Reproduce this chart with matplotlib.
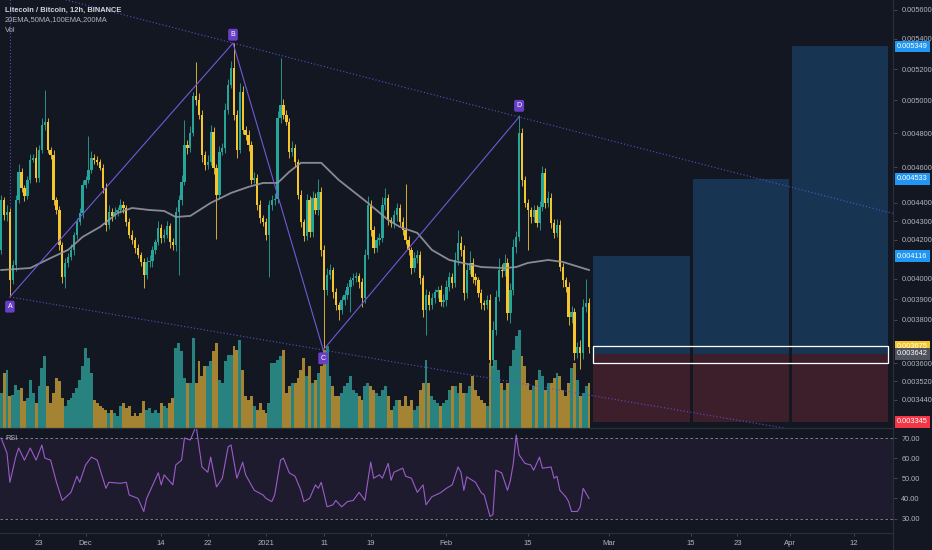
import matplotlib
matplotlib.use('Agg')
import matplotlib.pyplot as plt
import matplotlib.dates as mdates
import matplotlib.transforms as mtrans
from matplotlib.patches import Rectangle
from matplotlib.lines import Line2D
import numpy as np
import pandas as pd

plt.rcParams['font.family'] = ['Liberation Sans', 'DejaVu Sans']

# --- data (prices in 1e-6 BTC) ---
first_candle = '2020-11-16 12:00'
open0_e6 = 4148
close_e6 = [
    4415, 4333, 4349, 3995, 4071, 4415, 4573, 4482, 4437, 4527,
    4642, 4654, 4538, 4700, 4850, 4868, 4700, 4671, 4415, 4360,
    4174, 4010, 4081, 4112, 4148, 4227, 4295, 4344, 4499, 4527,
    4584, 4654, 4642, 4630, 4596, 4482, 4280, 4349, 4328, 4349,
    4360, 4388, 4371, 4295, 4227, 4200, 4158, 4122, 4086, 4020,
    4086, 4090, 4148, 4190, 4264, 4211, 4227, 4275, 4190, 4174,
    4349, 4415, 4516, 4730, 4712, 4801, 5028, 5003, 4910, 4671,
    4613, 4630, 4807, 4596, 4443, 4688, 4712, 4941, 5098, 5207,
    4910, 4700, 5053, 4819, 4789, 4730, 4527, 4538, 4388, 4317,
    4295, 4227, 4388, 4415, 4420, 4892, 4972, 4910, 4868, 4688,
    4712, 4630, 4443, 4295, 4222, 4415, 4243, 4426, 4360, 4460,
    4148, 3945, 4020, 4045, 3935, 3872, 3848, 3896, 3921, 3960,
    3995, 4005, 4015, 3985, 3906, 4122, 4388, 4253, 4158, 4200,
    4211, 4388, 4426, 4306, 4290, 4333, 4371, 4295, 4253, 4200,
    4148, 4055, 4106, 4122, 4005, 3848, 3921, 3872, 3906, 3935,
    3945, 3886, 3896, 3960, 4010, 3980, 4096, 4184, 4148, 3931,
    4045, 4081, 4010, 3995, 3931, 3882, 3872, 3896, 3615, 3753,
    3911, 4045, 4040, 4081, 3834, 3945, 4164, 4216, 4801, 4527,
    4399, 4360, 4322, 4360, 4290, 4377, 4567, 4399, 4426, 4290,
    4238, 4280, 4061, 3995, 3960, 3814, 3838, 3647, 3674, 3647,
    3862, 3882, 3675]
wick_hi_e6 = [
    30, 15, 40, 20, 25, 30, 45, 20, 15, 25,
    35, 20, 65, 30, 40, 200, 25, 20, 30, 15,
    20, 15, 25, 20, 30, 15, 20, 25, 30, 20,
    200, 40, 25, 20, 15, 20, 25, 40, 20, 25,
    15, 30, 20, 15, 20, 25, 15, 20, 15, 20,
    25, 30, 20, 15, 35, 20, 30, 25, 15, 20,
    30, 25, 40, 150, 30, 40, 25, 215, 45, 30,
    25, 40, 40, 30, 25, 35, 30, 40, 35, 45,
    165, 30, 60, 40, 25, 30, 25, 35, 20, 25,
    15, 20, 25, 30, 35, 40, 300, 35, 30, 25,
    40, 25, 20, 30, 15, 35, 20, 40, 25, 70,
    30, 25, 35, 30, 15, 20, 15, 20, 25, 20,
    15, 25, 20, 15, 20, 30, 50, 25, 20, 15,
    25, 45, 55, 20, 15, 25, 30, 20, 25, 250,
    20, 15, 30, 25, 20, 15, 30, 20, 25, 15,
    20, 25, 30, 35, 25, 20, 40, 70, 35, 25,
    30, 60, 25, 20, 15, 20, 15, 25, 30, 40,
    35, 60, 30, 45, 25, 35, 40, 30, 110, 30,
    25, 20, 15, 30, 25, 35, 40, 30, 40, 25,
    20, 30, 25, 20, 15, 25, 30, 20, 25, 30,
    40, 120, 25]
wick_lo_e6 = [
    20, 25, 30, 80, 20, 30, 15, 20, 25, 15,
    20, 15, 25, 20, 15, 30, 20, 25, 30, 20,
    25, 30, 55, 20, 15, 25, 20, 15, 25, 20,
    15, 20, 25, 20, 15, 30, 35, 20, 25, 15,
    20, 15, 25, 20, 15, 20, 25, 15, 20, 65,
    20, 25, 30, 20, 15, 25, 20, 15, 30, 25,
    30, 330, 25, 20, 35, 25, 20, 30, 25, 40,
    30, 25, 20, 35, 240, 25, 20, 30, 25, 20,
    30, 45, 20, 25, 30, 35, 25, 20, 30, 25,
    20, 25, 217, 30, 25, 20, 30, 25, 20, 35,
    25, 30, 20, 25, 30, 20, 25, 30, 20, 25,
    30, 276, 25, 20, 30, 25, 48, 20, 25, 20,
    120, 25, 20, 30, 45, 25, 20, 30, 25, 20,
    25, 20, 30, 25, 20, 25, 30, 20, 25, 20,
    25, 30, 20, 25, 30, 35, 118, 25, 20, 25,
    30, 20, 25, 30, 20, 25, 20, 25, 30, 35,
    25, 20, 30, 25, 20, 30, 25, 20, 15, 30,
    25, 20, 30, 25, 35, 46, 25, 30, 20, 35,
    25, 210, 30, 25, 20, 35, 25, 30, 20, 25,
    30, 25, 20, 35, 25, 40, 30, 32, 25, 75,
    30, 25, 30]
volume_k = [
    35, 55, 58, 32, 33, 43, 38, 40, 27, 30,
    48, 35, 25, 42, 60, 72, 42, 25, 35, 50,
    47, 30, 22, 28, 30, 35, 40, 48, 62, 80,
    70, 55, 28, 25, 22, 20, 18, 15, 18, 15,
    12, 22, 25, 20, 22, 12, 15, 12, 15, 27,
    18, 20, 15, 18, 15, 25, 22, 20, 25, 30,
    80, 85, 77, 50, 45, 45, 90, 45, 67, 52,
    62, 62, 67, 77, 85, 48, 45, 67, 73, 73,
    82, 78, 88, 58, 32, 28, 32, 22, 18, 25,
    18, 15, 25, 65, 65, 68, 72, 78, 35, 42,
    45, 45, 50, 58, 70, 52, 62, 45, 48, 55,
    62, 78, 82, 52, 42, 32, 32, 35, 42, 45,
    52, 38, 35, 32, 28, 42, 45, 42, 38, 35,
    32, 38, 42, 32, 18, 22, 28, 28, 22, 32,
    22, 28, 18, 22, 38, 45, 68, 45, 32, 28,
    25, 22, 25, 28, 38, 42, 42, 35, 45, 35,
    35, 42, 52, 38, 32, 28, 25, 22, 65, 62,
    68, 58, 45, 38, 45, 62, 78, 92, 98, 72,
    62, 45, 38, 42, 48, 58, 52, 38, 45, 45,
    50, 55, 52, 38, 32, 45, 60, 65, 48, 32,
    35, 42, 45]

ma_idx = [0, 10, 17, 23, 28, 34, 40, 45, 51, 56,
          60, 65, 72, 79, 85, 90, 95, 99, 103, 110,
          116, 126, 133, 137, 143, 148, 154, 165, 173, 177,
          181, 188, 193, 202]
ma_e6 = [4045, 4055, 4106, 4148, 4216, 4269, 4344, 4371, 4360, 4355,
         4322, 4328, 4399, 4454, 4488, 4510, 4510, 4573, 4625, 4625,
         4527, 4399, 4306, 4269, 4237, 4148, 4096, 4060, 4055, 4060,
         4081, 4096, 4086, 4045]

rsi_idx = [0, 2, 3, 5, 6, 8, 10, 12, 14, 15,
           17, 19, 21, 24, 26, 27, 29, 31, 33, 36,
           37, 41, 43, 44, 47, 49, 50, 54, 55, 56,
           59, 60, 62, 63, 65, 67, 69, 71, 72, 74,
           76, 78, 79, 81, 83, 84, 87, 90, 91, 93,
           94, 96, 97, 99, 101, 103, 104, 106, 108, 109,
           110, 112, 114, 115, 117, 119, 121, 123, 125, 127,
           128, 130, 131, 133, 134, 135, 138, 139, 141, 143,
           145, 146, 148, 151, 153, 155, 157, 158, 159, 160,
           163, 165, 166, 168, 169, 170, 172, 174, 175, 176,
           177, 178, 180, 182, 183, 185, 186, 189, 190, 191,
           192, 194, 195, 196, 198, 199, 200, 202]
rsi_val = [70, 62.5, 48, 60.5, 65, 59, 65, 59, 66.5, 60,
           59, 48, 39, 43, 51, 48, 56.6, 60.5, 59, 45,
           48, 47.5, 48, 41.7, 40, 33.5, 40, 52.7, 46.7, 51.7,
           46.7, 56.6, 59, 70, 69, 76, 55.6, 53, 60.5, 45.7,
           50, 65.6, 66.5, 50, 58, 51.7, 44, 41.7, 40, 38.4,
           41.7, 59, 60, 52.7, 51, 44, 38.4, 40, 46.7, 45,
           48, 35.8, 36.8, 39, 35.8, 38.4, 39, 43, 39, 58,
           50, 51.7, 50, 57.4, 49, 53, 55, 51, 50, 43,
           46.7, 36.8, 40.8, 42.8, 45, 46.7, 55.6, 53, 44, 50.7,
           48, 42.8, 41.7, 31, 32, 54, 52.7, 44, 49, 57.4,
           71.5, 61.6, 57.4, 56.6, 54, 60.5, 55, 55.6, 50, 51,
           44, 40.8, 38.4, 33.5, 33.5, 35.8, 45, 40]

pattern_names = ['A', 'B', 'C', 'D']
pattern_time = ['2020-11-18 00:00', '2020-12-26 08:00', '2021-01-10 20:00', '2021-02-13 12:00']
pattern_e6 = [3911, 5372, 3660, 4898]

entry_e6 = 3642
stop_e6 = 3345
target_e6 = [4116, 4533, 5349]
box_start = ['2021-02-26 04:00', '2021-03-15 08:00', '2021-04-01 10:00']
box_end = ['2021-03-14 22:00', '2021-03-31 20:00', '2021-04-17 22:00']
zone_e6 = [3600, 3680]
last_e6 = 3675

# levels hidden behind the price badges are left out
price_ticks_e6 = [5600, 5400, 5200, 5000, 4800, 4600, 4400, 4300, 4200,
                  4000, 3900, 3800, 3600, 3520, 3440]
rsi_ticks = [70, 60, 50, 40, 30]
date_ticks = ['2020-11-23', '2020-12-01', '2020-12-14', '2020-12-22', '2021-01-01',
              '2021-01-11', '2021-01-19', '2021-02-01', '2021-02-15', '2021-03-01',
              '2021-03-15', '2021-03-23', '2021-04-01', '2021-04-12']
date_labels = ['23', 'Dec', '14', '22', '2021', '11', '19', 'Feb', '15', 'Mar',
               '15', '23', 'Apr', '12']
view_range = ['2020-11-16 07:12', '2021-04-18 17:45']

# --- colours ---
bg = '#131722'
txt = '#b2b5be'
up_c, dn_c = '#26a69a', '#f5c52c'
vup_c, vdn_c = '#2a8a86', '#ad8a34'
purple = '#7258d8'


def dnum(s):
    return mdates.date2num(pd.to_datetime(s).to_pydatetime())


n = len(close_e6)
dates = pd.date_range(first_candle, periods=n, freq='12h')
xs = mdates.date2num(dates.to_pydatetime())
c = np.array(close_e6) * 1e-6
o = np.concatenate([[open0_e6 * 1e-6], c[:-1]])
hi = np.maximum(o, c) + np.array(wick_hi_e6) * 1e-6
lo = np.minimum(o, c) - np.array(wick_lo_e6) * 1e-6
is_up = c >= o

fig = plt.figure(figsize=(9.32, 5.5), dpi=100, facecolor=bg)
W, H = 932, 550
pane_r = 893 / W
vax = fig.add_axes([0, 122 / H, pane_r, 428 / H])
ax = fig.add_axes([0, 122 / H, pane_r, 428 / H], sharex=vax)
rax = fig.add_axes([0, 17 / H, pane_r, 105 / H], sharex=vax)

vax.set_facecolor(bg)
ax.patch.set_alpha(0)
rax.set_facecolor(bg)

# volume
vax.bar(xs, volume_k, width=0.5, color=np.where(is_up, vup_c, vdn_c), linewidth=0, alpha=0.95)
vax.set_ylim(0, 428)
vax.axis('off')

# price
ax.set_yscale('log')
ax.vlines(xs, lo, hi, colors=np.where(is_up, up_c, dn_c), linewidth=0.6, zorder=3)
ax.bar(xs, np.abs(c - o), bottom=np.minimum(o, c), width=0.4,
       color=np.where(is_up, up_c, dn_c), linewidth=0, zorder=4)
ax.plot(xs[ma_idx], np.array(ma_e6) * 1e-6, color='#9598a1', lw=1.3, alpha=0.9, zorder=5)

x_lo, x_hi = dnum(view_range[0]), dnum(view_range[1])
ax.set_xlim(x_lo, x_hi)
ax.set_ylim(3320e-6, 5669e-6)

# harmonic pattern + channel
px = np.array([dnum(t) for t in pattern_time])
py = np.array(pattern_e6) * 1e-6
ax.plot(px, py, color=purple, lw=0.8, zorder=6)
dots = (0, (1, 2))
ax.vlines(px[0], py[0], 1, color='#5b50c8', lw=0.8, linestyles=dots, zorder=2)
k_up = (np.log(py[3]) - np.log(py[1])) / (px[3] - px[1])
ax.plot([x_lo, x_hi], np.exp(np.log(py[1]) + k_up * (np.array([x_lo, x_hi]) - px[1])),
        color='#5b50c8', lw=0.8, ls=dots, zorder=6)
k_lo = (np.log(py[2]) - np.log(py[0])) / (px[2] - px[0])
ax.plot([px[0], x_hi], np.exp(np.log(py[0]) + k_lo * (np.array([px[0], x_hi]) - px[0])),
        color='#5b50c8', lw=0.8, ls=dots, zorder=6)
for name, xx, yy, dy in zip(pattern_names, px, py, [-7, 6, -6, 8]):
    ax.annotate(name, (xx, yy), xytext=(0, dy), textcoords='offset points',
                ha='center', va='center', fontsize=5, color='white', zorder=8,
                bbox=dict(boxstyle='round,pad=0.35,rounding_size=0.25', fc='#6a3fc8', ec='none'))

# long position boxes
for s, e, t in zip(box_start, box_end, target_e6):
    x0, x1 = dnum(s), dnum(e)
    ax.add_patch(Rectangle((x0, entry_e6 * 1e-6), x1 - x0, (t - entry_e6) * 1e-6,
                           fc='#173453', ec='none', zorder=1))
    ax.add_patch(Rectangle((x0, stop_e6 * 1e-6), x1 - x0, (entry_e6 - stop_e6) * 1e-6,
                           fc='#3d1f2b', ec='none', zorder=1))
zx0, zx1 = dnum(box_start[0]), dnum(box_end[-1])
ax.add_patch(Rectangle((zx0, zone_e6[0] * 1e-6), zx1 - zx0, (zone_e6[1] - zone_e6[0]) * 1e-6,
                       fc='none', ec='white', lw=0.9, zorder=7))

# price axis
ax.yaxis.tick_right()
ax.yaxis.set_minor_locator(matplotlib.ticker.NullLocator())
ax.set_yticks(np.array(price_ticks_e6) * 1e-6)
ax.set_yticklabels([f'{v * 1e-6:.6f}' for v in price_ticks_e6])
ax.tick_params(axis='y', colors=txt, labelsize=5.3, length=3, width=0.6, pad=3)
ax.tick_params(axis='y', which='both', color='#4a4e59')
ax.tick_params(axis='x', which='both', bottom=False, labelbottom=False)
for sp in ax.spines.values():
    sp.set_visible(False)

tr = mtrans.blended_transform_factory(ax.transAxes, ax.transData)
badges = [(target_e6[2], '#2196f3', 'white'), (target_e6[1], '#2196f3', 'white'),
          (target_e6[0], '#2196f3', 'white'), (last_e6, '#f5c52c', 'white'),
          (entry_e6, '#50535e', 'white'), (stop_e6, '#f23645', 'white')]
for v, fc, tc in badges:
    ax.text(1.0045, v * 1e-6, f'{v * 1e-6:.6f}', transform=tr, ha='left', va='center',
            fontsize=5.3, color=tc, clip_on=False, zorder=10,
            bbox=dict(boxstyle='square,pad=0.3', fc=fc, ec='none'))

# RSI pane
rax.axhspan(30, 70, color='#1e1b2e', lw=0, zorder=0)
for lvl in (70, 30):
    rax.axhline(lvl, color='#8a8d96', lw=0.6, ls=(0, (3, 3)), zorder=1)
rax.plot(xs[rsi_idx], rsi_val, color='#9a5cc9', lw=0.8, zorder=3)
rax.set_ylim(22.8, 74.97)
rax.yaxis.tick_right()
rax.set_yticks(rsi_ticks)
rax.set_yticklabels([f'{v:.2f}' for v in rsi_ticks])
rax.tick_params(axis='y', colors=txt, labelsize=5.3, length=3, width=0.6, pad=3)
rax.tick_params(axis='y', color='#4a4e59')
rax.set_xticks([dnum(d) for d in date_ticks])
rax.set_xticklabels(date_labels)
rax.tick_params(axis='x', colors=txt, labelsize=5.5, length=2, width=0.6, pad=3)
rax.tick_params(axis='x', color='#4a4e59')
for sp in rax.spines.values():
    sp.set_visible(False)
rax.text(5 / 893, 70, 'RSI', transform=mtrans.blended_transform_factory(rax.transAxes, rax.transData),
         fontsize=5.3, color=txt, va='center', ha='left', zorder=4)

# pane borders
line_c = '#2a2e39'
fig.add_artist(Line2D([pane_r, pane_r], [0, 1], transform=fig.transFigure, color=line_c, lw=0.9))
fig.add_artist(Line2D([0, pane_r], [122 / H, 122 / H], transform=fig.transFigure, color=line_c, lw=0.9))
fig.add_artist(Line2D([0, pane_r], [17 / H, 17 / H], transform=fig.transFigure, color=line_c, lw=0.9))

# legend texts
fig.text(5 / W, 1 - 10 / H, 'Litecoin / Bitcoin, 12h, BINANCE', fontsize=5.4, color='#d1d4dc',
         weight='bold', va='center', ha='left')
fig.text(5 / W, 1 - 20 / H, '20EMA,50MA,100EMA,200MA', fontsize=5.4, color=txt, va='center', ha='left')
fig.text(5 / W, 1 - 30 / H, 'Vol', fontsize=5.4, color=txt, va='center', ha='left')

fig.savefig('out.png', dpi=100, facecolor=bg)
